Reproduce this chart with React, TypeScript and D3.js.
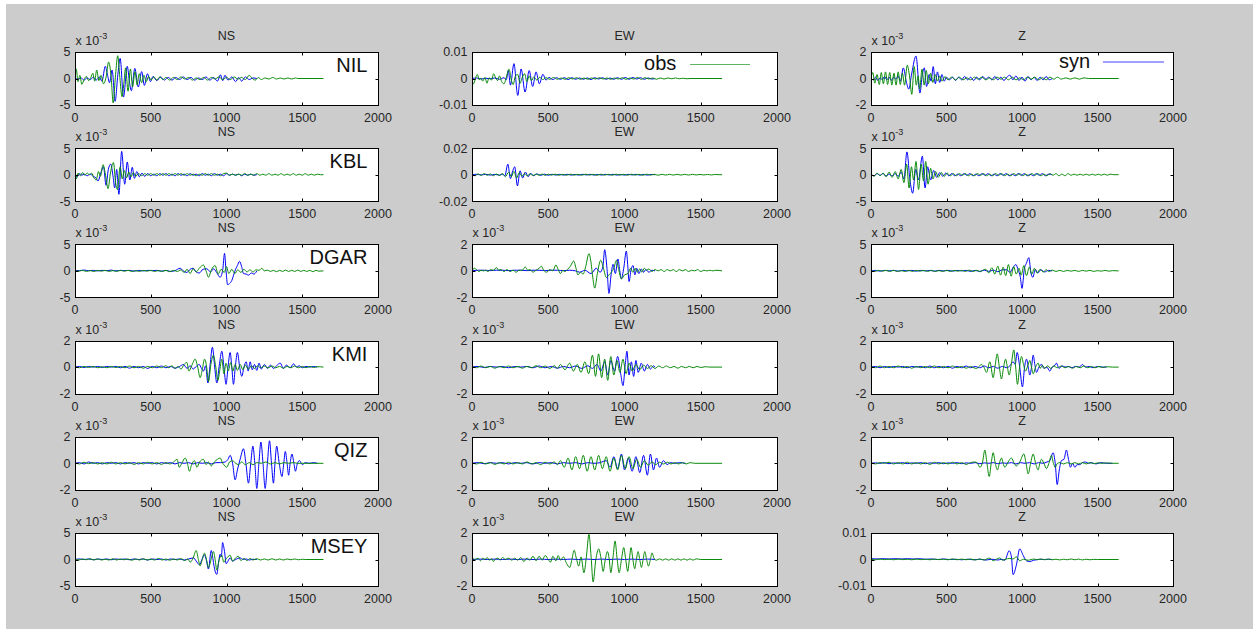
import React, { useEffect, useRef } from 'react'
import * as d3 from 'd3'

// waveform panels: obs (green) vs syn (blue), amplitudes in units of 1e-3
const stations = ['NIL', 'KBL', 'DGAR', 'KMI', 'QIZ', 'MSEY']
const comps = ['NS', 'EW', 'Z']
const yLims = [[5, 10, 2], [5, 20, 5], [5, 2, 5], [2, 2, 2], [2, 2, 2], [5, 2, 10]]
const xTicks = [0, 500, 1000, 1500, 2000]

// each trace: flat list of time, amplitude pairs
const obs_NIL_NS = [0,0.6, 8,1.8, 20,-0.6, 32,0.6, 45,-1.1, 60,-0.2, 75,0.4, 90,-0.4, 105,0.2, 118,1.0, 130,-0.5, 143,1.6, 158,-0.4, 172,0.6, 188,-1.0, 205,0.2, 222,3.1, 238,0.5, 252,-4.6, 268,0.8, 282,4.3, 296,0.2, 310,-3.4, 324,-0.5, 334,2.0, 350,-2.4, 366,1.8, 380,-1.6, 396,1.3, 410,-1.2, 424,0.9, 440,-0.8, 455,0.6, 470,-0.6, 486,0.4, 502,-0.3, 520,0.3, 540,-0.3, 560,0.3, 580,-0.2, 600,0.2, 625,-0.3, 650,0.2, 675,-0.2, 700,0.3, 725,-0.1, 750,0.2, 775,-0.3, 800,0.1, 825,-0.2, 850,0.2, 875,-0.3, 900,0.2, 925,-0.1, 950,0.3, 975,-0.2, 1000,0.2, 1025,-0.2, 1050,0.3, 1075,-0.1, 1100,0.2, 1125,-0.2, 1150,0.6, 1170,0.0, 1190,-0.3, 1210,0.2, 1230,-0.2, 1255,0.1, 1280,-0.1, 1305,0.2, 1330,-0.1, 1355,0.1, 1380,-0.1, 1405,0.1, 1430,-0.1, 1455,0.1, 1470,0, 1640,0]
const syn_NIL_NS = [0,0, 20,-0.1, 40,0.1, 60,-0.3, 80,0.1, 100,-0.2, 120,0.2, 140,-0.3, 160,0.3, 178,-0.5, 200,2.3, 215,0.6, 228,-0.8, 245,1.6, 265,-4.3, 282,0.5, 298,3.8, 320,-3.5, 345,2.3, 360,-0.8, 372,-2.3, 395,1.9, 418,-1.6, 440,1.3, 458,-1.3, 478,0.9, 498,-0.6, 515,0.4, 540,-0.4, 565,0.3, 590,-0.3, 615,0.2, 640,-0.3, 665,0.2, 690,-0.2, 715,0.3, 740,-0.2, 765,0.2, 790,-0.3, 815,0.1, 840,-0.2, 865,0.3, 890,-0.3, 915,0.2, 940,-0.5, 960,0.7, 975,-0.4, 990,0.6, 1010,-0.3, 1035,0.3, 1060,-0.6, 1080,0.2, 1100,-0.5, 1125,0.3, 1150,-0.2, 1175,0.1, 1200,0]
const obs_NIL_EW = [0,-0.5, 10,-2.0, 25,0.5, 35,1.5, 48,-0.5, 58,0.2, 70,-1.0, 85,0.4, 98,-1.8, 112,0.3, 128,-0.6, 142,1.8, 155,0.2, 168,-0.8, 180,1.0, 195,-1.2, 210,-2.0, 225,0.5, 243,3.5, 258,-0.6, 270,-2.3, 285,1.0, 300,1.5, 315,-1.8, 330,0.5, 345,1.8, 360,-1.2, 375,1.0, 390,-0.8, 405,0.6, 425,-0.6, 445,0.5, 465,-0.4, 485,0.3, 510,-0.3, 535,0.4, 560,-0.3, 585,0.2, 610,-0.3, 635,0.3, 660,-0.2, 685,0.3, 710,-0.3, 735,0.2, 760,-0.3, 785,0.2, 810,-0.2, 835,0.3, 860,-0.2, 885,0.2, 910,-0.3, 935,0.2, 960,-0.2, 985,0.3, 1010,-0.3, 1035,0.2, 1060,-0.2, 1085,0.4, 1110,-0.3, 1135,0.3, 1160,-0.2, 1185,0.2, 1210,-0.3, 1235,0.2, 1260,-0.2, 1285,0.2, 1310,-0.1, 1335,0.2, 1360,-0.1, 1385,0.1, 1410,-0.1, 1430,0, 1640,0]
const syn_NIL_EW = [0,0, 30,0.2, 60,-0.2, 90,0.1, 120,-0.1, 150,0.2, 180,-0.3, 210,0.3, 225,-0.5, 238,3.0, 252,-2.5, 275,5.6, 300,-6.4, 322,3.6, 348,-5.1, 375,3.0, 398,-3.0, 420,2.5, 442,-2.0, 465,1.6, 485,-0.6, 505,0.4, 530,-0.4, 555,0.3, 580,-0.3, 605,0.3, 630,-0.4, 655,0.3, 680,-0.3, 705,0.2, 730,-0.3, 755,0.2, 780,-0.4, 805,0.3, 830,-0.2, 855,0.3, 880,-0.3, 905,0.2, 930,-0.3, 955,0.3, 980,-0.3, 1005,0.4, 1030,-0.3, 1055,0.4, 1080,-0.2, 1105,0.3, 1130,-0.3, 1155,0.2, 1180,-0.2, 1200,0]
const obs_NIL_Z = [0,0.1, 12,0.45, 25,-0.35, 40,0.3, 55,-0.45, 68,0.45, 82,-0.4, 96,0.5, 110,-0.45, 124,0.45, 138,-0.5, 152,0.4, 166,-0.5, 180,0.5, 194,-0.45, 208,0.4, 222,-0.5, 240,1.0, 255,0.2, 270,-1.2, 286,0.9, 300,-0.5, 312,0.2, 322,-0.8, 338,0.7, 352,-0.5, 366,0.6, 380,-0.4, 395,0.4, 410,-0.3, 425,0.3, 440,-0.2, 455,0.2, 470,-0.2, 490,0.15, 510,-0.1, 535,0.1, 560,-0.1, 585,0.1, 610,-0.1, 635,0.05, 660,-0.1, 685,0.1, 710,-0.05, 735,0.1, 760,-0.1, 785,0.05, 810,-0.1, 835,0.1, 860,-0.05, 885,0.1, 910,-0.1, 935,0.1, 960,-0.1, 985,0.05, 1010,-0.1, 1035,0.1, 1060,-0.05, 1085,0.1, 1110,-0.1, 1135,0.05, 1160,-0.1, 1185,0.1, 1210,-0.05, 1235,0.1, 1260,-0.05, 1290,0.05, 1320,-0.05, 1350,0.05, 1380,-0.05, 1410,0.05, 1440,0, 1640,0]
const syn_NIL_Z = [0,0, 15,-0.1, 30,0.1, 45,-0.15, 60,0.05, 75,-0.1, 90,0.15, 105,-0.1, 120,0.1, 135,-0.15, 150,0.1, 165,-0.05, 180,0.2, 195,-0.2, 214,0.8, 235,-0.3, 250,-0.8, 270,0.4, 298,1.7, 324,-1.1, 340,0.3, 353,0.8, 368,-0.6, 385,0.3, 398,-0.2, 412,0.9, 426,-0.4, 440,0.5, 455,-0.3, 470,0.3, 485,-0.2, 500,0.1, 520,-0.1, 540,0.1, 560,-0.15, 580,0.1, 600,-0.1, 620,0.15, 640,-0.1, 660,0.1, 680,-0.15, 700,0.1, 720,-0.1, 740,0.15, 760,-0.05, 780,0.1, 800,-0.1, 820,0.15, 840,-0.1, 860,0.1, 880,-0.15, 900,0.1, 920,0.25, 940,-0.1, 960,0.2, 980,-0.15, 1000,0.1, 1020,-0.2, 1040,0.15, 1060,-0.1, 1080,0.1, 1100,-0.15, 1120,0.1, 1140,-0.1, 1160,0.15, 1180,-0.1, 1200,0]

const obs_KBL_NS = [0,1.4, 8,-0.8, 20,0.3, 35,-0.2, 50,0.4, 65,-0.1, 80,0.3, 95,0, 110,0.3, 125,-0.6, 140,-1.0, 155,0.6, 168,-0.3, 185,1.9, 200,0.2, 218,-2.6, 235,0.5, 254,2.3, 268,-1.5, 280,-2.8, 298,1.5, 312,-0.8, 325,0.8, 340,-0.6, 355,0.5, 370,-0.4, 385,0.4, 400,-0.3, 420,0.2, 440,-0.2, 460,0.2, 480,-0.1, 500,0.2, 520,-0.1, 540,0.2, 560,-0.1, 580,0.2, 600,-0.1, 620,0.2, 640,-0.1, 660,0.2, 680,-0.1, 700,0.2, 720,-0.1, 740,0.2, 760,-0.1, 780,0.1, 800,-0.2, 820,0.1, 840,-0.1, 860,0.2, 880,-0.1, 900,0.2, 920,-0.1, 940,0.1, 960,-0.2, 980,0.2, 1000,0.3, 1020,-0.1, 1040,0.1, 1060,-0.1, 1080,0.1, 1100,-0.1, 1120,0.2, 1140,-0.1, 1160,0.1, 1180,-0.1, 1200,0.2, 1220,-0.1, 1240,0.1, 1260,-0.1, 1280,0.2, 1300,-0.1, 1320,0.1, 1340,-0.1, 1360,0.2, 1380,-0.1, 1400,0.1, 1420,-0.1, 1440,0.2, 1460,-0.1, 1480,0.1, 1500,-0.1, 1520,0.2, 1540,-0.1, 1560,0.1, 1580,-0.1, 1600,0.1, 1620,0, 1640,0]
const syn_KBL_NS = [0,0, 15,-0.4, 30,0.2, 45,-0.1, 60,0.1, 80,-0.2, 100,0.1, 120,-0.3, 138,-0.6, 152,-1.2, 170,0.3, 188,1.5, 205,-2.0, 220,1.0, 236,2.0, 252,-0.5, 262,-2.5, 275,1.0, 290,-3.7, 308,4.4, 328,-1.8, 345,2.4, 362,-1.0, 378,1.4, 392,-0.7, 408,0.6, 425,-0.4, 442,0.3, 460,-0.3, 480,0.2, 500,-0.2, 520,0.1, 540,-0.2, 560,0.2, 580,-0.1, 600,0.2, 620,-0.2, 640,0.1, 660,-0.2, 680,0.2, 700,-0.1, 720,0.1, 740,-0.2, 760,0.2, 780,-0.1, 800,0.1, 820,-0.2, 840,0.2, 860,-0.1, 880,0.1, 900,-0.2, 920,0.2, 940,-0.1, 960,0.1, 980,-0.2, 1000,0.2, 1020,-0.1, 1040,0.1, 1060,-0.1, 1080,0.1, 1100,-0.2, 1120,0.1, 1140,-0.1, 1160,0.1, 1180,-0.1, 1200,0]
const obs_KBL_EW = [0,0.5, 20,-0.8, 40,0.6, 60,-0.5, 80,0.8, 100,-0.4, 120,0.6, 140,-0.8, 160,0.5, 180,-0.6, 200,0.8, 220,-1.5, 240,2.0, 258,-1.5, 275,2.5, 292,-2.5, 310,1.5, 328,-1.2, 345,1.0, 362,-0.8, 380,0.6, 400,-0.6, 420,0.5, 440,-0.4, 460,0.5, 480,-0.5, 500,0.4, 520,-0.3, 545,0.4, 570,-0.4, 595,0.3, 620,-0.4, 645,0.4, 670,-0.3, 695,0.3, 720,-0.4, 745,0.4, 770,-0.3, 795,0.3, 820,-0.4, 845,0.4, 870,-0.3, 895,0.3, 920,-0.4, 945,0.4, 970,-0.3, 995,0.3, 1020,-0.4, 1045,0.4, 1070,-0.3, 1095,0.3, 1120,-0.4, 1145,0.4, 1170,-0.3, 1195,0.3, 1220,-0.4, 1245,0.3, 1270,-0.3, 1295,0.3, 1320,-0.3, 1345,0.3, 1370,-0.3, 1395,0.3, 1420,-0.3, 1445,0.3, 1470,-0.2, 1495,0.2, 1520,-0.2, 1545,0.2, 1570,-0.2, 1595,0.2, 1620,0, 1640,0]
const syn_KBL_EW = [0,0, 30,0.3, 60,-0.2, 90,0.3, 120,-0.3, 150,0.2, 180,-0.3, 200,0.5, 215,-1.0, 235,8.0, 252,-3.0, 265,2.0, 280,6.0, 298,-8.5, 315,3.0, 332,-2.5, 350,2.0, 368,-1.5, 385,1.0, 405,-0.8, 425,0.6, 450,-0.5, 475,0.4, 500,-0.4, 525,0.3, 550,-0.3, 575,0.3, 600,-0.3, 625,0.3, 650,-0.3, 675,0.2, 700,-0.3, 725,0.3, 750,-0.2, 775,0.3, 800,-0.3, 825,0.2, 850,-0.3, 875,0.3, 900,-0.2, 925,0.3, 950,-0.3, 975,0.2, 1000,-0.3, 1025,0.3, 1050,-0.2, 1075,0.3, 1100,-0.3, 1125,0.2, 1150,-0.3, 1175,0.2, 1200,0]
const obs_KBL_Z = [0,0.2, 20,-0.3, 40,0.3, 60,-0.2, 80,0.3, 100,-0.4, 120,0.5, 140,-0.5, 160,0.6, 180,-0.8, 200,1.0, 218,-1.5, 236,2.0, 252,-2.5, 268,1.5, 282,-1.0, 298,2.5, 315,-2.8, 332,2.0, 348,-1.2, 362,2.5, 378,-1.8, 395,1.2, 410,-0.8, 428,0.6, 445,-0.5, 465,0.4, 485,-0.3, 505,0.3, 525,-0.2, 545,0.2, 565,-0.2, 585,0.2, 605,-0.1, 625,0.2, 645,-0.2, 665,0.1, 685,-0.2, 705,0.2, 725,-0.1, 745,0.2, 765,-0.2, 785,0.1, 805,-0.2, 825,0.2, 845,-0.1, 865,0.2, 885,-0.2, 905,0.1, 925,-0.2, 945,0.2, 965,-0.1, 985,0.2, 1005,-0.2, 1025,0.1, 1045,-0.2, 1065,0.2, 1085,-0.1, 1105,0.2, 1125,-0.2, 1145,0.1, 1165,-0.2, 1185,0.2, 1205,-0.1, 1225,0.2, 1245,-0.2, 1265,0.1, 1285,-0.2, 1305,0.2, 1325,-0.1, 1345,0.1, 1365,-0.1, 1385,0.1, 1405,-0.1, 1425,0.1, 1445,-0.1, 1465,0.1, 1485,-0.1, 1505,0.1, 1525,-0.1, 1545,0.1, 1565,-0.1, 1585,0.1, 1610,0, 1640,0]
const syn_KBL_Z = [0,0, 20,-0.2, 40,0.2, 60,-0.1, 80,0.2, 100,-0.2, 120,0.1, 140,-0.2, 160,0.2, 180,-0.3, 200,0.5, 218,-0.8, 238,4.3, 258,-1.0, 276,-3.5, 296,1.0, 314,-1.0, 340,3.5, 358,-2.5, 375,1.5, 395,-1.0, 415,0.8, 435,-0.5, 455,0.4, 475,-0.3, 495,0.3, 515,-0.2, 535,0.2, 555,-0.2, 575,0.1, 595,-0.2, 615,0.2, 635,-0.1, 655,0.2, 675,-0.2, 695,0.1, 715,-0.2, 735,0.2, 755,-0.1, 775,0.2, 795,-0.2, 815,0.1, 835,-0.2, 855,0.2, 875,-0.1, 895,0.2, 915,-0.2, 935,0.1, 955,-0.2, 975,0.2, 995,-0.1, 1015,0.2, 1035,-0.2, 1055,0.1, 1075,-0.2, 1095,0.2, 1115,-0.1, 1135,0.2, 1155,-0.2, 1175,0.1, 1200,0]

const obs_DGAR_NS = [0,0.1, 25,-0.05, 50,0.1, 75,-0.1, 100,0.05, 125,-0.1, 150,0.1, 175,-0.05, 200,0.1, 225,-0.1, 250,0.05, 275,-0.1, 300,0.1, 325,-0.05, 350,0.1, 375,-0.1, 400,0.05, 425,-0.1, 450,0.1, 475,-0.05, 500,0.1, 525,-0.1, 550,0.05, 575,-0.1, 600,0.1, 625,-0.15, 650,0.1, 675,-0.1, 700,0.2, 720,-0.3, 740,0.3, 760,-0.5, 780,0.4, 800,-0.2, 820,0.5, 848,1.1, 865,0, 881,-1.2, 900,0.2, 925,1.0, 945,-0.6, 965,0.3, 985,-0.3, 1000,0.8, 1015,-0.5, 1035,0.3, 1055,-0.5, 1075,0.2, 1095,-0.3, 1115,0.3, 1135,-0.2, 1155,0.2, 1175,-0.2, 1195,0.2, 1215,0.1, 1233,0.5, 1250,0, 1270,0.15, 1290,-0.1, 1310,0.1, 1330,-0.15, 1350,0.1, 1370,-0.1, 1390,0.15, 1410,-0.1, 1430,0.1, 1450,-0.1, 1470,0.15, 1490,-0.1, 1510,0.1, 1530,-0.1, 1550,0.1, 1570,-0.15, 1590,0.1, 1610,-0.05, 1640,0]
const syn_DGAR_NS = [0,0.1, 30,0.05, 60,0.15, 90,0.05, 120,0.1, 150,0.0, 180,0.1, 210,0.05, 240,0.15, 270,0.0, 300,0.1, 330,0.05, 360,0.1, 390,-0.05, 420,0.1, 450,0.0, 480,0.1, 510,0.05, 540,0.1, 570,-0.05, 600,0.1, 630,-0.1, 660,0.05, 694,0.5, 715,0, 738,-0.3, 760,0.3, 780,0.5, 800,-0.2, 820,-0.4, 845,0.3, 870,0.4, 895,-0.2, 915,0.4, 935,-0.3, 958,-1.2, 975,0.2, 987,3.3, 997,0, 1007,-2.6, 1020,-2.4, 1035,-1.8, 1050,-0.5, 1060,0.3, 1072,1.0, 1086,1.8, 1100,0.8, 1112,-0.5, 1130,-0.6, 1145,-0.8, 1165,-0.4, 1180,-0.6, 1196,-0.2, 1200,0]
const obs_DGAR_EW = [0,-0.05, 15,0.2, 30,0.1, 45,-0.05, 60,0.05, 75,0.0, 90,0.05, 105,-0.05, 120,0.1, 140,0.05, 160,0.25, 175,0.05, 190,0.1, 210,-0.05, 230,0.1, 250,-0.05, 270,0.05, 290,-0.1, 310,0.05, 330,0.05, 350,0.3, 365,0.05, 380,0.1, 400,-0.1, 420,0.05, 440,0.2, 455,0.35, 470,0.05, 490,-0.1, 510,0.1, 530,0.0, 550,0.45, 565,0.1, 580,-0.2, 595,0.05, 610,-0.05, 625,0.1, 645,0.35, 667,0.75, 682,0.2, 695,-0.3, 712,-0.1, 728,-0.25, 745,0.3, 767,1.3, 782,0.5, 790,-0.3, 805,-1.3, 822,-0.2, 844,0.8, 862,0.2, 881,-0.5, 898,-0.3, 914,-0.1, 930,0.2, 947,0.8, 962,0.1, 980,-0.6, 1000,-0.3, 1023,-0.2, 1040,0.2, 1055,-0.1, 1070,0.2, 1085,-0.1, 1100,0.15, 1115,-0.1, 1130,0.2, 1145,0.05, 1160,0.15, 1180,-0.05, 1200,0.1, 1220,0.0, 1240,0.1, 1260,-0.05, 1280,0.1, 1300,0.0, 1320,0.1, 1340,-0.05, 1360,0.1, 1380,0.0, 1400,0.1, 1420,-0.05, 1440,0.05, 1460,0.0, 1480,0.1, 1500,-0.05, 1520,0.05, 1540,0.0, 1560,0.05, 1580,0.0, 1600,0.05, 1640,0.0]
const syn_DGAR_EW = [0,0, 40,0.05, 80,0.05, 120,0.02, 160,0.05, 200,0.05, 240,0.02, 280,0.05, 320,0.05, 360,0.02, 400,0.05, 440,0.05, 480,0.02, 520,0.05, 560,0.05, 600,0.02, 640,0.05, 680,0.0, 706,-0.1, 740,0.05, 780,-0.2, 815,0.2, 840,-0.1, 858,0.3, 870,1.6, 885,0.2, 898,-1.7, 912,-0.3, 925,0.5, 940,-0.2, 957,0.9, 968,0.1, 979,-0.6, 995,0.2, 1012,1.5, 1022,0.3, 1030,-0.8, 1043,0.1, 1056,0.4, 1068,-0.3, 1080,0.2, 1095,-0.2, 1110,0.15, 1125,-0.1, 1140,0.1, 1160,-0.1, 1180,0.05, 1200,0]
const obs_DGAR_Z = [0,0.1, 25,-0.1, 50,0.1, 75,-0.05, 100,0.1, 125,-0.1, 150,0.1, 175,-0.1, 200,0.05, 225,-0.1, 250,0.1, 275,-0.1, 300,0.1, 325,-0.05, 350,0.1, 375,-0.1, 400,0.1, 425,-0.1, 450,0.05, 475,-0.1, 500,0.1, 525,-0.1, 550,0.1, 575,-0.05, 600,0.1, 625,-0.1, 650,0.15, 675,-0.1, 700,0.1, 725,-0.15, 745,0.2, 760,0.3, 780,-0.4, 800,0.6, 820,-0.6, 840,0.9, 858,-0.8, 875,0.7, 892,-0.9, 910,1.2, 928,-1.0, 945,0.8, 962,-0.6, 980,0.5, 995,-0.8, 1012,1.0, 1030,-0.9, 1048,0.7, 1065,-0.6, 1082,0.5, 1100,-0.4, 1120,0.3, 1140,-0.2, 1160,0.2, 1180,-0.15, 1200,0.15, 1225,-0.1, 1250,0.1, 1275,-0.1, 1300,0.1, 1325,-0.05, 1350,0.1, 1375,-0.1, 1400,0.1, 1425,-0.05, 1450,0.1, 1475,-0.1, 1500,0.05, 1525,-0.05, 1550,0.1, 1575,-0.05, 1600,0.05, 1640,0]
const syn_DGAR_Z = [0,0, 30,0.1, 60,-0.05, 90,0.1, 120,0.0, 150,0.1, 180,-0.05, 210,0.1, 240,0.0, 270,0.1, 300,-0.05, 330,0.1, 360,0.0, 390,0.1, 420,-0.05, 450,0.1, 480,0.0, 510,0.1, 540,-0.05, 570,0.1, 600,0.0, 630,0.1, 660,-0.1, 690,0.1, 720,-0.1, 750,0.15, 780,-0.1, 810,0.15, 840,-0.15, 870,0.2, 900,0.2, 920,-0.3, 940,0.6, 960,1.2, 975,0.1, 988,-1.0, 1000,-3.3, 1015,0.3, 1030,1.5, 1045,2.5, 1060,-0.5, 1072,-1.2, 1088,0.3, 1105,-0.4, 1125,0.2, 1150,-0.2, 1175,0.1, 1200,0]

const obs_KMI_NS = [0,0.05, 30,-0.05, 60,0.05, 90,-0.03, 120,0.05, 150,-0.05, 180,0.03, 210,-0.05, 240,0.05, 270,-0.03, 300,0.05, 330,-0.05, 360,0.08, 390,-0.05, 420,0.05, 450,-0.08, 480,0.05, 510,-0.05, 540,0.08, 570,-0.05, 600,0.1, 620,-0.05, 640,0.1, 660,-0.1, 680,0.05, 700,-0.15, 720,0.2, 738,0.35, 752,-0.3, 770,0.1, 793,0.6, 810,0.0, 826,-0.8, 840,-0.2, 855,0.6, 868,0.1, 881,-1.1, 897,0.2, 914,0.9, 928,0.1, 943,-1.0, 956,-0.2, 969,0.6, 983,-0.5, 997,0.3, 1012,-0.3, 1027,0.35, 1042,-0.3, 1057,0.2, 1072,-0.25, 1090,0.2, 1108,-0.2, 1125,0.15, 1145,-0.15, 1165,0.1, 1185,-0.1, 1205,0.1, 1225,-0.05, 1250,0.08, 1275,-0.05, 1300,0.08, 1325,-0.05, 1350,0.05, 1375,-0.08, 1400,0.05, 1425,-0.05, 1450,0.08, 1475,-0.05, 1500,0.05, 1525,-0.05, 1550,0.05, 1575,-0.03, 1600,0.03, 1640,0]
const syn_KMI_NS = [0,0, 30,0.05, 60,-0.03, 90,0.05, 120,0.0, 150,0.05, 180,-0.03, 210,0.05, 240,0.0, 270,0.05, 300,-0.05, 330,0.05, 360,-0.08, 390,0.05, 420,-0.05, 450,0.05, 480,-0.1, 510,0.05, 540,-0.05, 570,0.08, 600,-0.05, 630,0.05, 660,-0.08, 690,0.05, 716,0.2, 740,-0.1, 760,0.1, 780,-0.15, 800,0.05, 820,0.2, 835,-0.1, 848,-0.3, 862,0.1, 877,-1.2, 892,0.2, 907,1.5, 922,0.0, 936,-1.2, 952,0.1, 969,1.2, 983,0.0, 997,-1.3, 1010,0.0, 1024,1.1, 1035,0.0, 1046,-1.3, 1058,0.0, 1072,1.1, 1087,0.0, 1101,-0.7, 1115,0.0, 1130,0.4, 1143,-0.3, 1156,0.4, 1170,-0.2, 1185,0.2, 1200,-0.25, 1215,0.3, 1230,-0.15, 1250,0.2, 1270,-0.1, 1290,0.15, 1310,-0.1, 1330,0.1, 1355,0.3, 1375,-0.1, 1395,0.15, 1420,-0.05, 1443,0.25, 1460,0.0, 1480,0.1, 1500,-0.05, 1525,0.05, 1550,0.0, 1575,0.05, 1600,0]
const obs_KMI_EW = [0,0.05, 30,-0.05, 60,0.08, 90,-0.05, 120,0.05, 150,-0.08, 180,0.05, 210,-0.05, 240,0.08, 270,-0.05, 300,0.05, 330,-0.08, 360,0.05, 390,-0.05, 420,0.1, 450,-0.05, 480,0.08, 510,-0.1, 540,0.1, 560,-0.1, 580,0.2, 610,-0.2, 640,0.3, 665,-0.3, 690,0.2, 715,-0.4, 740,0.4, 765,-0.5, 790,0.9, 810,-0.7, 830,1.0, 850,-0.8, 870,0.6, 890,-1.0, 910,0.8, 930,-0.6, 950,0.5, 970,-0.4, 990,0.6, 1010,-0.5, 1030,0.3, 1050,-0.3, 1075,0.2, 1100,-0.2, 1125,0.15, 1150,-0.1, 1175,0.1, 1200,-0.1, 1225,0.08, 1250,-0.05, 1275,0.08, 1300,-0.05, 1325,0.05, 1350,-0.08, 1375,0.05, 1400,-0.05, 1425,0.05, 1450,-0.05, 1475,0.05, 1500,-0.03, 1530,0.03, 1560,0, 1640,0]
const syn_KMI_EW = [0,0, 40,0.05, 80,-0.03, 120,0.05, 160,0.0, 200,0.05, 240,-0.05, 280,0.05, 320,0.0, 360,0.05, 400,-0.05, 440,0.08, 480,-0.05, 520,0.05, 560,-0.08, 600,0.05, 640,-0.05, 680,0.08, 720,-0.1, 760,0.1, 790,-0.1, 820,0.2, 845,-0.3, 870,0.4, 890,-0.6, 910,0.5, 935,-0.3, 955,0.8, 975,-0.5, 990,-1.4, 1005,0.2, 1016,1.2, 1030,-0.6, 1045,0.4, 1060,-0.7, 1075,0.5, 1090,-0.4, 1110,0.3, 1130,-0.3, 1150,0.2, 1170,-0.15, 1190,0.1, 1200,0]
const obs_KMI_Z = [0,0.05, 30,-0.05, 60,0.08, 90,-0.05, 120,0.05, 150,-0.05, 180,0.08, 210,-0.05, 240,0.05, 270,-0.08, 300,0.05, 330,-0.05, 360,0.05, 390,-0.05, 420,0.08, 450,-0.05, 480,0.05, 510,-0.05, 540,0.08, 570,-0.05, 600,0.05, 630,-0.08, 660,0.05, 680,-0.05, 699,-0.1, 716,0.05, 732,0.2, 748,0.0, 765,-0.4, 787,0.4, 809,-0.8, 822,0.1, 836,1.0, 850,0.0, 864,-0.9, 878,0.0, 891,0.6, 903,0.0, 915,-0.6, 930,0.3, 946,1.3, 958,0.0, 970,-1.3, 984,0.0, 997,0.8, 1010,0.2, 1023,-0.3, 1038,0.1, 1052,0.5, 1063,0.0, 1074,-0.5, 1090,0.0, 1107,0.3, 1120,-0.1, 1135,0.15, 1150,-0.1, 1170,0.1, 1190,-0.1, 1210,0.08, 1235,-0.05, 1260,0.08, 1285,-0.05, 1310,0.05, 1335,-0.08, 1360,0.05, 1385,-0.05, 1410,0.08, 1435,-0.05, 1460,0.05, 1485,-0.05, 1510,0.05, 1535,-0.03, 1560,0.03, 1600,0, 1640,0]
const syn_KMI_Z = [0,0, 30,0.05, 60,-0.05, 90,0.05, 120,-0.03, 150,0.05, 180,0.0, 210,0.05, 240,-0.05, 270,0.05, 300,0.0, 330,0.05, 360,-0.05, 390,0.08, 420,-0.05, 450,0.05, 480,-0.05, 510,0.05, 540,-0.08, 570,0.05, 600,-0.05, 630,0.08, 660,-0.05, 690,0.05, 720,-0.05, 750,0.08, 780,-0.05, 810,0.05, 840,-0.08, 870,0.05, 900,-0.05, 920,0.1, 941,0.4, 955,0.2, 968,1.1, 985,0.0, 1003,-1.5, 1017,0.0, 1030,0.6, 1041,0.0, 1052,-0.6, 1063,0.0, 1074,0.9, 1085,0.2, 1096,-0.4, 1112,0.0, 1129,0.2, 1145,-0.1, 1165,0.0, 1184,-0.3, 1200,0.0, 1215,0.1, 1228,0.3, 1245,-0.1, 1265,0.1, 1285,0.0, 1305,0.05, 1330,-0.05, 1355,0.05, 1380,0.0, 1400,0.2, 1420,0.0, 1445,0.05, 1470,-0.05, 1500,0.05, 1530,0.0, 1560,0]

const obs_QIZ_NS = [0,0.05, 30,-0.05, 60,0.08, 90,-0.03, 120,0.05, 150,-0.05, 180,0.05, 210,-0.05, 240,0.08, 270,-0.05, 300,0.05, 330,-0.05, 360,0.05, 390,-0.08, 420,0.05, 450,-0.05, 480,0.08, 510,-0.05, 540,0.05, 570,-0.08, 600,0.05, 625,-0.05, 650,0.1, 674,0.3, 688,-0.3, 705,0.0, 727,0.4, 742,0.0, 755,-0.6, 770,-0.1, 788,0.2, 805,-0.3, 822,0.1, 848,0.3, 865,-0.1, 880,0.1, 900,-0.2, 920,0.1, 940,0.3, 958,0.4, 975,0.0, 990,-0.2, 1002,-0.3, 1020,0.1, 1040,0.2, 1060,0.0, 1080,-0.1, 1100,0.1, 1125,-0.1, 1150,0.05, 1175,-0.1, 1200,0.05, 1230,0.0, 1260,0.1, 1290,-0.05, 1320,0.05, 1350,-0.05, 1380,0.05, 1410,0.0, 1440,0.05, 1470,0, 1640,0]
const syn_QIZ_NS = [0,0, 30,0.05, 60,-0.05, 90,0.1, 120,0.0, 150,0.05, 180,-0.05, 210,0.05, 240,0.0, 270,0.05, 300,-0.05, 330,0.05, 360,0.0, 390,0.05, 420,-0.05, 450,0.05, 480,0.0, 510,0.05, 540,-0.05, 570,0.05, 600,0.0, 630,0.05, 660,-0.05, 690,0.05, 720,0.0, 750,0.05, 780,-0.05, 810,0.05, 840,0.0, 870,0.05, 900,-0.05, 930,0.05, 960,0.05, 990,0.1, 1010,0.3, 1024,0.6, 1040,0.0, 1057,-1.25, 1072,-0.5, 1090,0.3, 1112,1.1, 1128,0.0, 1145,-1.5, 1160,0.0, 1174,1.3, 1187,0.0, 1200,-1.9, 1214,0.0, 1227,1.6, 1241,0.0, 1255,-1.9, 1270,0.0, 1284,1.7, 1297,0.0, 1310,-1.5, 1320,0.0, 1331,1.3, 1348,0.0, 1366,-1.0, 1378,0.0, 1388,0.9, 1400,0.0, 1410,-0.9, 1420,0.0, 1432,0.7, 1445,0.0, 1455,-0.6, 1468,0.0, 1482,0.2, 1500,-0.1, 1520,0.05, 1545,0.0, 1575,0.05, 1600,0]
const obs_QIZ_EW = [0,0.05, 30,-0.05, 60,0.08, 90,-0.05, 120,0.05, 150,-0.08, 180,0.05, 210,-0.05, 240,0.08, 270,-0.05, 300,0.05, 330,-0.05, 360,0.1, 390,-0.05, 420,0.05, 450,-0.1, 480,0.08, 510,-0.05, 540,0.1, 560,-0.1, 580,0.2, 605,-0.3, 630,0.4, 655,-0.5, 680,0.5, 705,-0.4, 730,0.6, 755,-0.6, 780,0.5, 805,-0.5, 830,0.6, 855,-0.4, 880,0.5, 905,-0.6, 930,0.4, 955,-0.5, 980,0.6, 1005,-0.4, 1030,0.5, 1055,-0.4, 1080,0.3, 1105,-0.3, 1130,0.2, 1155,-0.15, 1180,0.1, 1205,-0.1, 1230,0.08, 1255,-0.05, 1280,0.08, 1305,-0.05, 1330,0.05, 1355,-0.05, 1380,0.05, 1405,-0.05, 1430,0.05, 1460,0, 1640,0]
const syn_QIZ_EW = [0,0, 40,0.05, 80,-0.03, 120,0.05, 160,0.0, 200,0.05, 240,-0.05, 280,0.05, 320,0.0, 360,0.05, 400,-0.05, 440,0.05, 480,0.0, 520,0.05, 560,-0.05, 600,0.05, 640,0.0, 680,0.05, 720,-0.05, 760,0.05, 800,0.0, 840,0.05, 880,0.2, 905,-0.3, 930,0.5, 955,-0.4, 980,0.7, 1000,-0.5, 1025,0.4, 1050,-0.6, 1075,0.5, 1100,-0.7, 1125,0.6, 1150,-0.9, 1170,0.7, 1190,-0.5, 1210,0.4, 1230,-0.3, 1255,0.2, 1280,-0.1, 1300,0.05, 1330,0.0, 1360,0.05, 1400,0]
const obs_QIZ_Z = [0,0.05, 30,-0.05, 60,0.05, 90,0.0, 120,0.08, 150,-0.05, 180,0.05, 210,-0.05, 240,0.08, 270,-0.05, 300,0.05, 330,-0.05, 360,0.05, 390,-0.08, 420,0.08, 450,-0.05, 480,0.05, 510,-0.05, 540,0.08, 570,-0.05, 600,0.05, 630,-0.08, 660,0.05, 688,0.1, 705,0.0, 721,-0.3, 737,0.0, 754,1.0, 768,0.0, 783,-1.0, 796,0.0, 809,0.8, 823,0.0, 838,-0.5, 850,0.0, 864,0.4, 875,0.0, 886,-0.3, 908,0.1, 930,0.4, 948,0.0, 962,-0.2, 985,0.1, 1012,0.7, 1027,0.0, 1041,-0.8, 1057,0.0, 1074,0.7, 1090,0.0, 1107,-0.5, 1118,0.0, 1129,0.3, 1145,0.0, 1162,-0.4, 1178,0.0, 1195,0.6, 1208,0.0, 1220,-0.3, 1235,0.0, 1250,0.05, 1275,-0.05, 1300,0.05, 1325,-0.05, 1350,0.05, 1375,-0.05, 1400,0.05, 1425,-0.05, 1450,0.05, 1475,-0.03, 1500,0.03, 1530,0.0, 1560,0.03, 1600,0, 1640,0]
const syn_QIZ_Z = [0,0, 30,0.03, 60,0.0, 90,0.05, 120,-0.03, 150,0.03, 180,0.0, 210,0.05, 240,-0.03, 270,0.03, 300,0.0, 330,0.05, 360,-0.03, 390,0.03, 420,0.0, 450,0.05, 480,-0.03, 510,0.03, 540,0.0, 570,0.05, 600,-0.03, 630,0.03, 660,0.0, 690,0.05, 720,-0.03, 750,0.03, 780,0.0, 810,0.05, 840,-0.03, 870,0.03, 900,0.0, 930,0.05, 960,-0.05, 990,0.05, 1020,0.0, 1050,0.05, 1080,-0.05, 1110,0.05, 1140,0.0, 1165,0.1, 1184,0.2, 1206,0.8, 1220,0.0, 1233,-1.6, 1247,-0.5, 1261,0.2, 1278,0.3, 1294,1.0, 1308,0.3, 1321,-0.3, 1335,0.0, 1350,-0.3, 1365,-0.1, 1383,-0.1, 1400,0.05, 1420,0.1, 1440,0.0, 1460,0.05, 1490,-0.05, 1520,0.05, 1560,0.0, 1600,0]

const obs_MSEY_NS = [0,0.1, 25,-0.1, 50,0.1, 75,-0.05, 100,0.15, 125,-0.1, 150,0.1, 175,-0.1, 200,0.05, 225,-0.1, 250,0.15, 275,-0.1, 300,0.1, 325,-0.05, 350,0.1, 375,-0.15, 400,0.1, 425,-0.1, 450,0.15, 475,-0.1, 500,0.1, 525,-0.1, 550,0.2, 575,-0.1, 600,0.1, 625,-0.15, 650,0.1, 675,-0.1, 700,0.15, 725,-0.2, 745,0.1, 760,-0.5, 780,0.3, 800,1.7, 813,0.2, 826,-1.2, 840,0.0, 855,1.2, 868,0.0, 881,-1.5, 898,0.0, 914,1.5, 925,0.0, 936,-2.0, 952,0.0, 969,0.8, 982,-0.5, 1000,0.2, 1024,0.8, 1040,-0.3, 1060,0.3, 1079,0.6, 1095,-0.2, 1115,0.2, 1135,-0.2, 1155,0.2, 1175,-0.1, 1200,0.15, 1225,-0.1, 1250,0.1, 1275,-0.1, 1300,0.15, 1325,-0.1, 1350,0.1, 1375,-0.1, 1400,0.1, 1425,-0.05, 1450,0.1, 1475,-0.05, 1500,0.05, 1520,0, 1640,0]
const syn_MSEY_NS = [0,0, 30,0.1, 60,0.0, 90,0.1, 120,-0.05, 150,0.1, 180,0.0, 210,0.1, 240,-0.05, 270,0.1, 300,0.0, 330,0.1, 360,-0.05, 390,0.1, 420,0.0, 450,0.1, 480,-0.1, 510,0.1, 540,0.0, 570,0.1, 600,-0.1, 630,0.1, 660,0.0, 690,0.1, 720,-0.1, 750,0.1, 782,0.3, 800,-0.3, 822,-1.0, 838,0.0, 853,0.9, 866,0.0, 881,-1.8, 899,1.7, 910,0.2, 918,-1.3, 936,-2.8, 948,-0.5, 958,1.0, 966,0.5, 974,3.2, 987,1.5, 998,-0.8, 1010,-0.3, 1024,0.3, 1040,-0.3, 1060,0.0, 1090,0.3, 1110,0.0, 1130,0.1, 1150,-0.1, 1175,0.05, 1200,0]
const obs_MSEY_EW = [0,0.15, 20,0.0, 40,0.1, 55,-0.1, 70,0.1, 85,0.0, 100,0.15, 115,-0.05, 130,0.05, 140,-0.15, 155,0.05, 170,0.1, 185,-0.05, 200,0.15, 220,0.0, 240,0.1, 260,-0.05, 280,0.1, 300,-0.05, 320,0.15, 340,-0.15, 360,0.1, 380,-0.05, 400,0.25, 420,-0.1, 440,0.25, 460,-0.05, 480,0.3, 500,0.0, 515,-0.2, 530,0.25, 550,-0.1, 565,0.3, 580,-0.05, 600,0.2, 620,-0.3, 641,-0.6, 655,0.0, 670,0.7, 684,0.1, 700,-0.5, 715,0.2, 734,-1.0, 750,0.2, 767,1.9, 781,0.2, 794,-1.7, 812,0.0, 831,0.8, 846,0.1, 860,-0.9, 874,0.0, 888,0.6, 900,0.0, 910,-1.0, 925,0.2, 938,1.4, 952,0.0, 965,-1.0, 980,0.0, 995,0.9, 1008,0.0, 1021,-0.9, 1032,0.0, 1043,0.9, 1055,0.0, 1067,-0.7, 1078,0.0, 1089,0.6, 1100,0.0, 1111,-0.6, 1122,0.0, 1133,0.6, 1145,0.0, 1157,-0.5, 1170,0.0, 1180,0.5, 1195,0.05, 1210,-0.05, 1230,0.05, 1250,-0.05, 1270,0.05, 1290,-0.05, 1310,0.05, 1330,-0.05, 1350,0.05, 1370,-0.05, 1390,0.05, 1410,-0.05, 1430,0.05, 1450,-0.05, 1470,0.05, 1500,0, 1640,0]
const syn_MSEY_EW = [0,0, 50,0.03, 100,0.0, 150,0.03, 200,0.0, 250,0.03, 300,0.0, 350,0.03, 400,0.0, 450,0.03, 500,0.0, 550,0.03, 600,0.0, 650,0.03, 700,0.0, 750,0.03, 800,0.0, 850,0.03, 900,0.0, 950,0.03, 1000,0.0, 1050,0.03, 1100,0.0, 1150,0.03, 1200,0]
const obs_MSEY_Z = [0,0.1, 30,-0.1, 60,0.15, 90,-0.05, 120,0.1, 150,-0.1, 180,0.15, 210,-0.05, 240,0.1, 270,-0.1, 300,0.15, 330,-0.05, 360,0.1, 390,-0.1, 420,0.15, 450,-0.05, 480,0.1, 510,-0.1, 540,0.2, 570,-0.1, 600,0.15, 630,-0.1, 660,0.2, 690,-0.2, 720,0.2, 750,-0.2, 770,0.3, 787,0.5, 809,-0.5, 830,0.1, 853,0.6, 870,-0.3, 890,0.1, 919,0.4, 940,0.2, 963,1.0, 985,-0.5, 1010,0.1, 1041,-0.3, 1060,0.0, 1080,0.15, 1100,-0.1, 1125,0.15, 1150,-0.1, 1175,0.15, 1200,-0.1, 1225,0.1, 1250,-0.15, 1275,0.1, 1300,-0.1, 1325,0.2, 1350,-0.1, 1375,0.15, 1400,-0.15, 1425,0.1, 1450,-0.1, 1475,0.05, 1500,0, 1640,0]
const syn_MSEY_Z = [0,0.3, 40,0.2, 80,0.3, 120,0.2, 160,0.3, 200,0.2, 240,0.3, 280,0.2, 320,0.3, 360,0.1, 400,0.2, 440,0.0, 480,0.2, 520,0.0, 560,0.1, 600,-0.1, 640,0.1, 680,-0.1, 720,0.1, 760,-0.2, 800,0.1, 840,-0.2, 866,0.1, 886,-0.3, 915,3.3, 930,1.0, 941,-5.7, 963,-2.0, 985,4.0, 1008,1.5, 1030,-0.5, 1052,-0.8, 1075,-0.3, 1096,-0.1, 1120,0.1, 1150,0.0, 1175,0.1, 1200,0]

const obsTraces = [
  [obs_NIL_NS, obs_NIL_EW, obs_NIL_Z],
  [obs_KBL_NS, obs_KBL_EW, obs_KBL_Z],
  [obs_DGAR_NS, obs_DGAR_EW, obs_DGAR_Z],
  [obs_KMI_NS, obs_KMI_EW, obs_KMI_Z],
  [obs_QIZ_NS, obs_QIZ_EW, obs_QIZ_Z],
  [obs_MSEY_NS, obs_MSEY_EW, obs_MSEY_Z],
]
const synTraces = [
  [syn_NIL_NS, syn_NIL_EW, syn_NIL_Z],
  [syn_KBL_NS, syn_KBL_EW, syn_KBL_Z],
  [syn_DGAR_NS, syn_DGAR_EW, syn_DGAR_Z],
  [syn_KMI_NS, syn_KMI_EW, syn_KMI_Z],
  [syn_QIZ_NS, syn_QIZ_EW, syn_QIZ_Z],
  [syn_MSEY_NS, syn_MSEY_EW, syn_MSEY_Z],
]

const toPairs = (arr: number[]) => {
  const out: [number, number][] = []
  for (let i = 0; i < arr.length; i += 2) out.push([arr[i], arr[i + 1]])
  return out
}

export default function App() {
  const svgRef = useRef<SVGSVGElement>(null)

  useEffect(() => {
    const W = 1253, H = 634
    const svg = d3.select(svgRef.current).attr('width', W).attr('height', H)
    svg.selectAll('*').remove()
    const font = '"Liberation Sans", Arial, Helvetica, sans-serif'
    const ink = '#262626'
    const GREEN = '#0a8a0a', BLUE = '#0000ff'

    svg.append('rect').attr('x', 0).attr('y', 0).attr('width', W).attr('height', H).attr('fill', '#fff')
    svg.append('rect').attr('x', 6).attr('y', 4).attr('width', W - 6).attr('height', 625).attr('fill', '#cccccc')

    const colX = [75, 472, 871], colW = [303, 305, 302]
    const boxH = 53

    stations.forEach((st, r) => {
      const top = 52 + r * 96.2
      comps.forEach((cp, c) => {
        const left = colX[c], w = colW[c]
        const lim = yLims[r][c]
        const x = d3.scaleLinear().domain([0, 2000]).range([left, left + w])
        const y = d3.scaleLinear().domain([-lim, lim]).range([top + boxH, top])
        const g = svg.append('g')
        const bx = Math.round(left) + 0.5, by = Math.round(top) + 0.5
        const bw = Math.round(w), bh = boxH

        g.append('rect').attr('x', bx).attr('y', by).attr('width', bw).attr('height', bh).attr('fill', '#fff')

        const clipId = `clip-${r}-${c}`
        g.append('clipPath').attr('id', clipId).append('rect')
          .attr('x', bx).attr('y', by).attr('width', bw).attr('height', bh)

        const line = d3.line<[number, number]>().x(d => x(d[0])).y(d => y(d[1])).curve(d3.curveMonotoneX)
        const lines = g.append('g').attr('clip-path', `url(#${clipId})`)
        lines.append('path').datum(toPairs(synTraces[r][c])).attr('fill', 'none')
          .attr('stroke', BLUE).attr('stroke-width', 1).attr('d', line)
        lines.append('path').datum(toPairs(obsTraces[r][c])).attr('fill', 'none')
          .attr('stroke', GREEN).attr('stroke-width', 1).attr('d', line)

        // box + inward ticks on all sides
        g.append('rect').attr('x', bx).attr('y', by).attr('width', bw).attr('height', bh)
          .attr('fill', 'none').attr('stroke', '#000').attr('stroke-width', 1)
        const yTicks = [-lim, 0, lim]
        xTicks.forEach(t => {
          const xx = Math.round(x(t)) + 0.5
          g.append('line').attr('x1', xx).attr('x2', xx).attr('y1', by).attr('y2', by + 3).attr('stroke', '#000')
          g.append('line').attr('x1', xx).attr('x2', xx).attr('y1', by + bh).attr('y2', by + bh - 3).attr('stroke', '#000')
          g.append('text').attr('x', x(t)).attr('y', by + bh + 16).attr('text-anchor', 'middle')
            .attr('font-family', font).attr('font-size', 12.5).attr('fill', ink).text(t)
        })
        yTicks.forEach(v => {
          const yy = Math.round(y(v)) + 0.5
          g.append('line').attr('x1', bx).attr('x2', bx + 3).attr('y1', yy).attr('y2', yy).attr('stroke', '#000')
          g.append('line').attr('x1', bx + bw).attr('x2', bx + bw - 3).attr('y1', yy).attr('y2', yy).attr('stroke', '#000')
          const label = lim >= 10 ? (v === 0 ? '0' : String(+(v * 1e-3).toFixed(3))) : String(v)
          g.append('text').attr('x', bx - 5).attr('y', y(v)).attr('dy', '0.35em').attr('text-anchor', 'end')
            .attr('font-family', font).attr('font-size', 12.5).attr('fill', ink).text(label)
        })

        if (lim < 10) {
          const ex = g.append('text').attr('x', bx).attr('y', by - 8)
            .attr('font-family', font).attr('font-size', 12.5).attr('fill', ink)
          ex.append('tspan').text('x 10')
          ex.append('tspan').attr('dy', -6).attr('font-size', 9).text('-3')
        }

        g.append('text').attr('x', left + w / 2).attr('y', by - 13).attr('text-anchor', 'middle')
          .attr('font-family', font).attr('font-size', 12.5).attr('fill', ink).text(cp)

        if (c === 0) {
          g.append('text').attr('x', x(1930)).attr('y', by + 19).attr('text-anchor', 'end')
            .attr('font-family', font).attr('font-size', 20).attr('fill', '#111').text(st)
        }

        if (r === 0 && c === 1) {
          g.append('text').attr('x', x(1128)).attr('y', by + 17)
            .attr('font-family', font).attr('font-size', 20).attr('fill', '#111').text('obs')
          g.append('line').attr('x1', x(1430)).attr('x2', x(1823)).attr('y1', by + 12).attr('y2', by + 12)
            .attr('stroke', GREEN).attr('stroke-opacity', 0.65)
        }
        if (r === 0 && c === 2) {
          g.append('text').attr('x', x(1245)).attr('y', by + 15)
            .attr('font-family', font).attr('font-size', 20).attr('fill', '#111').text('syn')
          g.append('line').attr('x1', x(1536)).attr('x2', x(1940)).attr('y1', by + 9.5).attr('y2', by + 9.5)
            .attr('stroke', BLUE).attr('stroke-opacity', 0.75)
        }
      })
    })
  }, [])

  return (
    <svg ref={svgRef} style={{ position: 'absolute', left: 0, top: 0, display: 'block' }} />
  )
}
